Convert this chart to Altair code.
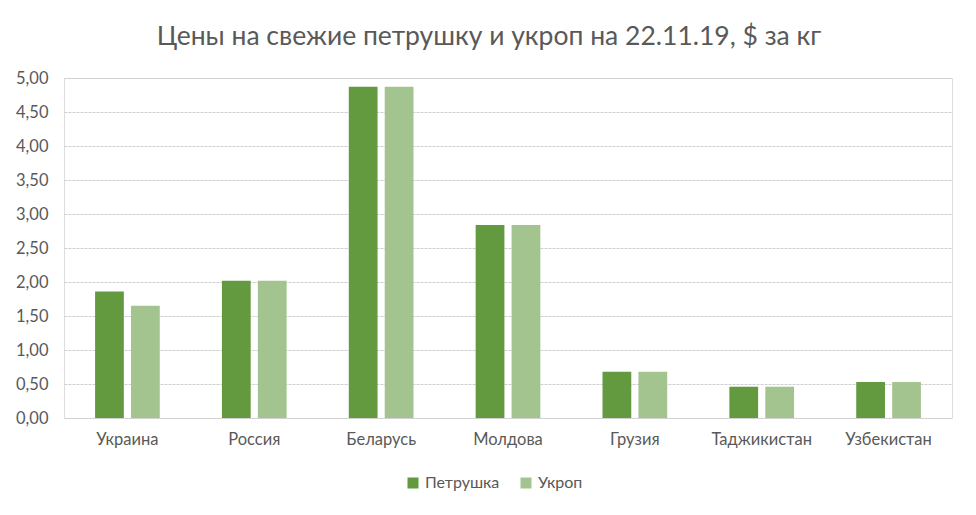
import altair as alt
import pandas as pd

countries = ["Украина", "Россия", "Беларусь", "Молдова", "Грузия", "Таджикистан", "Узбекистан"]
series = ["Петрушка", "Укроп"]
petrushka = [1.86, 2.02, 4.87, 2.84, 0.68, 0.46, 0.53]
ukrop = [1.65, 2.02, 4.87, 2.84, 0.68, 0.46, 0.53]
colors = ["#639a3f", "#a3c48f"]
y_ticks = [0, 0.5, 1, 1.5, 2, 2.5, 3, 3.5, 4, 4.5, 5]

rows = []
for c, p, u in zip(countries, petrushka, ukrop):
    rows.append({"country": c, "series": series[0], "value": p})
    rows.append({"country": c, "series": series[1], "value": u})
df = pd.DataFrame(rows)

FONT = "Lato"
GREY = "#595959"

chart = alt.Chart(df).mark_bar().encode(
    x=alt.X("country:N", sort=countries, title=None,
            scale=alt.Scale(paddingInner=0.49, paddingOuter=0.245),
            axis=alt.Axis(labelAngle=0, labelFont=FONT, labelFontSize=16.5, labelColor=GREY,
                          ticks=False, domain=False, grid=False, labelPadding=13)),
    xOffset=alt.XOffset("series:N", sort=series, scale=alt.Scale(paddingInner=0.2)),
    y=alt.Y("value:Q", title=None,
            scale=alt.Scale(domain=[0, 5], nice=False),
            axis=alt.Axis(values=y_ticks, format=".2f", labelExpr="replace(datum.label, '.', ',')",
                          labelFont=FONT, labelFontSize=16.5, labelColor=GREY,
                          ticks=False, domain=False, labelPadding=16,
                          gridColor="#cfcfcf", gridDash=[3, 1], gridWidth=1, gridCap="butt")),
    color=alt.Color("series:N", sort=series, title=None,
                    scale=alt.Scale(domain=series, range=colors),
                    legend=alt.Legend(orient="none", legendX=341, legendY=397,
                                      direction="horizontal", symbolType="square",
                                      symbolSize=121, symbolStrokeWidth=0, labelFont=FONT,
                                      labelFontSize=16, labelColor=GREY, columnPadding=18,
                                      labelOffset=4)),
).properties(
    width=888, height=340,
    padding={"left": 7, "top": 15, "right": 5, "bottom": 5},
    title=alt.TitleParams("Цены на свежие петрушку и укроп на 22.11.19, $ за кг",
                          font=FONT, fontSize=26.5, fontWeight="normal", color=GREY, offset=20,
                          dx=-19),
).configure_view(stroke=None).configure(background="white")

chart.save("out.html", embed_options={"renderer": "svg", "actions": False})
